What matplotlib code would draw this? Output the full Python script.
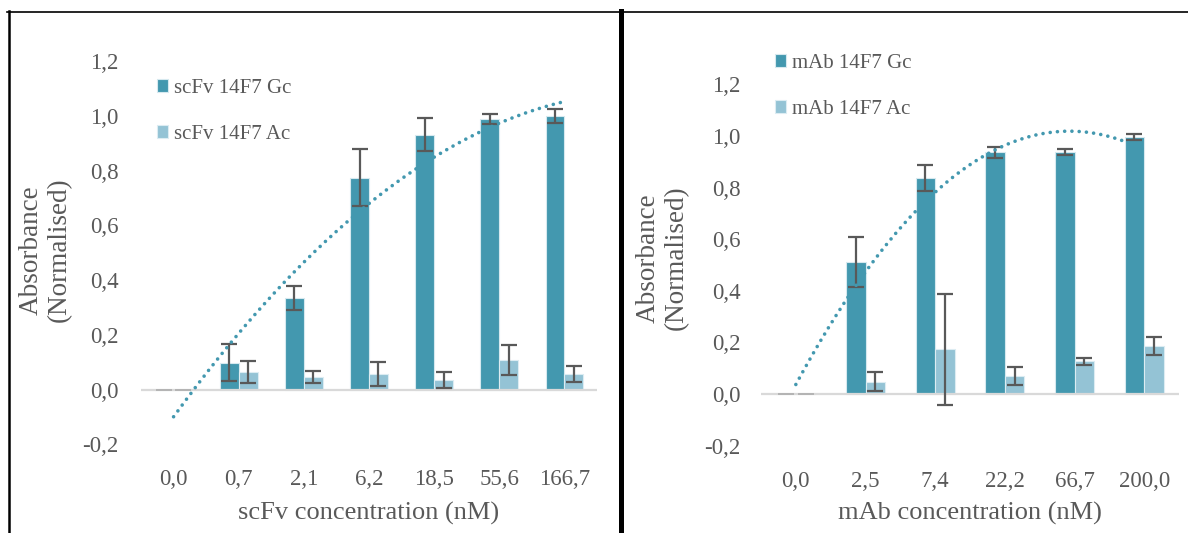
import numpy as np
import matplotlib.pyplot as plt
from matplotlib.lines import Line2D

plt.rcParams['font.family'] = ['Liberation Serif', 'DejaVu Serif']

# scFv 14F7 titration
scfv_conc = ['0,0', '0,7', '2,1', '6,2', '18,5', '55,6', '166,7']
scfv_gc = [0.0, 0.098, 0.334, 0.775, 0.932, 0.988, 1.000]
scfv_gc_err = [0.0, 0.068, 0.043, 0.105, 0.059, 0.018, 0.025]
scfv_ac = [0.0, 0.064, 0.046, 0.057, 0.036, 0.108, 0.056]
scfv_ac_err = [0.0, 0.042, 0.023, 0.044, 0.029, 0.056, 0.030]

# mAb 14F7 titration
mab_conc = ['0,0', '2,5', '7,4', '22,2', '66,7', '200,0']
mab_gc = [0.0, 0.511, 0.838, 0.937, 0.937, 0.997]
mab_gc_err = [0.0, 0.097, 0.051, 0.021, 0.012, 0.012]
mab_ac = [0.0, 0.048, 0.173, 0.070, 0.127, 0.185]
mab_ac_err = [0.0, 0.037, 0.214, 0.034, 0.013, 0.034]

yticks = [-0.2, 0.0, 0.2, 0.4, 0.6, 0.8, 1.0, 1.2]

DARK = '#4398af'
LIGHT = '#94c3d5'
TXT = '#595959'

W, H = 1188, 533
fig = plt.figure(figsize=(W / 100, H / 100), dpi=100)


def px_axes(left, top, right, bottom):
    return fig.add_axes([left / W, 1 - bottom / H, (right - left) / W, (bottom - top) / H])


def err(ax, xs, vals, errs):
    xs, vals, errs = np.asarray(xs), np.asarray(vals), np.asarray(errs)
    nz = errs > 0
    # empty points only leave a pale cap on the baseline
    ax.errorbar(xs[~nz], vals[~nz], yerr=errs[~nz], fmt='none', ecolor='#b4b4b4',
                elinewidth=1.4, capsize=5.8, capthick=1.4, zorder=4)
    ax.errorbar(xs[nz], vals[nz], yerr=errs[nz], fmt='none', ecolor=TXT, elinewidth=1.6,
                capsize=5.8, capthick=1.6, zorder=4)


def panel(ax, cats, gc, gc_err, ac, ac_err, names, xlabel, width, ypad, ylab_xy, xlab_y):
    x = np.arange(len(cats))
    b1 = ax.bar(x - width / 2, gc, width, color=DARK, edgecolor='#d6e9ef', linewidth=0.8,
                label=names[0], zorder=2)
    b2 = ax.bar(x + width / 2, ac, width, color=LIGHT, edgecolor='#dcecf2', linewidth=0.8,
                label=names[1], zorder=2)
    err(ax, x - width / 2, gc, gc_err)
    err(ax, x + width / 2, ac, ac_err)
    ax.axhline(0, color='#d9d9d9', lw=1.6, zorder=3)

    # 2nd order polynomial trend through the Gc series
    n = np.arange(1, len(cats) + 1)
    coef = np.polyfit(n, gc, 2)
    t = np.linspace(1, len(cats), 300)
    ax.plot(t - 1, np.polyval(coef, t), color=DARK, lw=2.6,
            linestyle=(0, (0.01, 2.0)), dash_capstyle='round', zorder=5)

    ax.set_xlim(-0.5, len(cats) - 0.5)
    ax.set_ylim(-0.2, 1.2)
    ax.set_yticks(yticks)
    ax.set_yticklabels([f'{v:.1f}'.replace('.', ',') for v in yticks])
    ax.set_xticks(x)
    ax.set_xticklabels(cats)
    ax.tick_params(axis='both', length=0, labelsize=16.5, labelcolor=TXT)
    ax.tick_params(axis='y', pad=ypad)
    ax.tick_params(axis='x', pad=18)
    for s in ax.spines.values():
        s.set_visible(False)

    ax.set_ylabel('Absorbance\n(Normalised)', fontsize=19.5, color=TXT, va='center',
                  linespacing=1.2)
    ax.yaxis.set_label_coords(*ylab_xy)
    ax.set_xlabel(xlabel, fontsize=19, color=TXT, va='center')
    ax.xaxis.set_label_coords(0.5, xlab_y)
    return b1, b2


axl = px_axes(141, 61.3, 597, 444.2)
hl = panel(axl, scfv_conc, scfv_gc, scfv_gc_err, scfv_ac, scfv_ac_err,
           ['scFv 14F7 Gc', 'scFv 14F7 Ac'], 'scFv concentration (nM)', 0.29, 16,
           (-0.21, 0.507), -0.18)

axr = px_axes(761, 84.4, 1179, 445.6)
hr = panel(axr, mab_conc, mab_gc, mab_gc_err, mab_ac, mab_ac_err,
           ['mAb 14F7 Gc', 'mAb 14F7 Ac'], 'mAb concentration (nM)', 0.28, 14.5,
           (-0.236, 0.519), -0.187)

leg_kw = dict(frameon=False, fontsize=15, handlelength=0.55, handleheight=0.55,
              handletextpad=0.25, labelspacing=1.3, borderpad=0, borderaxespad=0,
              loc='upper left', bbox_transform=fig.transFigure, labelcolor=TXT)
fig.legend(handles=list(hl), bbox_to_anchor=(157 / W, 1 - 79 / H), **leg_kw)
fig.legend(handles=list(hr), bbox_to_anchor=(775 / W, 1 - 54 / H), **leg_kw)

# panel frame lines
fig.add_artist(Line2D([7 / W, 1], [1 - 11.5 / H] * 2, color='black', lw=1.2,
                      transform=fig.transFigure))
fig.add_artist(Line2D([8.5 / W] * 2, [0, 1 - 11 / H], color='black', lw=1.8,
                      transform=fig.transFigure))
fig.add_artist(Line2D([620.5 / W] * 2, [0, 1 - 11 / H], color='black', lw=3.6,
                      transform=fig.transFigure))

fig.savefig('out.png', dpi=100)
